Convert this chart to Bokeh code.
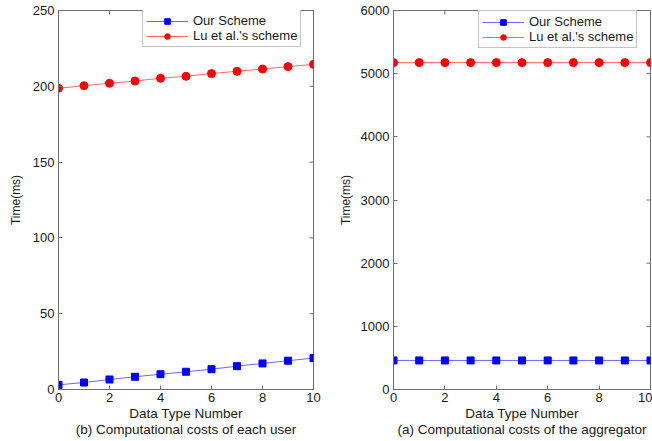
import math
from bokeh.plotting import figure
from bokeh.layouts import row
from bokeh.models import Legend, LegendItem, FixedTicker, Range1d
from bokeh.embed import file_html
from bokeh.resources import INLINE

# ---- data ----
data_type = [0, 1, 2, 3, 4, 5, 6, 7, 8, 9, 10]
user_ours = [3.1, 4.6, 6.6, 8.4, 10.1, 11.7, 13.4, 15.4, 17.2, 19.0, 20.7]
user_lu = [198.7, 200.4, 202.0, 203.5, 205.3, 206.6, 208.4, 209.9, 211.4, 213.0, 214.5]
agg_ours = [460, 460, 460, 460, 460, 460, 460, 460, 460, 460, 460]
agg_lu = [5175, 5175, 5175, 5175, 5175, 5175, 5175, 5175, 5175, 5175, 5175]
x_ticks = [0, 2, 4, 6, 8, 10]
user_y_ticks = [0, 50, 100, 150, 200, 250]
agg_y_ticks = [0, 1000, 2000, 3000, 4000, 5000, 6000]
series_names = ["Our Scheme", "Lu et al.'s scheme"]
x_label = "Data Type Number"
y_label = "Time(ms)"
captions = ["(b) Computational costs of each user", "(a) Computational costs of the aggregator"]

FONT = "Liberation Sans"
FRAME = "#6e6e6e"
TXT = "#1a1a1a"
H = 440
X_MAX = 10


def style_axis(ax, ticks):
    ax.ticker = FixedTicker(ticks=ticks)
    ax.major_tick_in = 4
    ax.major_tick_out = 0
    ax.minor_tick_line_color = None
    ax.major_tick_line_color = FRAME
    ax.axis_line_color = FRAME
    ax.major_label_text_font = FONT
    ax.major_label_text_color = TXT
    ax.major_label_text_font_size = "13px"
    ax.axis_label_text_font = FONT
    ax.axis_label_text_font_style = "normal"
    ax.axis_label_text_color = TXT


def make_panel(width, bl, br, y_max, y_ticks, ours, lu, caption, leg_xy, ylab_standoff):
    p = figure(width=width, height=H, output_backend="svg", toolbar_location=None,
               x_range=Range1d(0, X_MAX), y_range=Range1d(0, y_max),
               min_border_left=bl, min_border_right=br, min_border_top=10,
               min_border_bottom=40)
    p.grid.visible = False
    p.outline_line_color = FRAME
    p.outline_line_width = 1
    p.background_fill_color = "white"
    p.border_fill_color = "white"

    style_axis(p.xaxis[0], x_ticks)
    p.xaxis[0].major_label_standoff = 3
    p.xaxis[0].axis_label = x_label + "\n" + caption
    p.xaxis[0].axis_label_text_font_size = "13.5px"
    p.xaxis[0].axis_label_standoff = 1
    p.xaxis[0].axis_label_text_line_height = 1.1

    style_axis(p.yaxis[0], y_ticks)
    p.yaxis[0].major_label_standoff = 4
    p.yaxis[0].axis_label = y_label
    p.yaxis[0].axis_label_text_font_size = "12px"
    p.yaxis[0].axis_label_standoff = ylab_standoff

    # inward tick marks on the top and right edges of the box (clipped to frame)
    p.scatter(x_ticks, [y_max] * len(x_ticks), marker="dash", size=8,
              angle=math.pi / 2, line_color=FRAME, line_width=1)
    p.scatter([X_MAX] * len(y_ticks), y_ticks, marker="dash", size=8,
              line_color=FRAME, line_width=1)

    l1 = p.line(data_type, ours, line_color="#6a6aff", line_width=1)
    s1 = p.scatter(data_type, ours, marker="square", size=7, fill_color="#0000ff",
                   line_color="#0000ff")
    l2 = p.line(data_type, lu, line_color="#ff6a6a", line_width=1)
    s2 = p.scatter(data_type, lu, marker="circle", size=8, fill_color="#ff0000",
                   line_color="#ff0000")

    legend = Legend(items=[LegendItem(label=series_names[0], renderers=[l1, s1]),
                           LegendItem(label=series_names[1], renderers=[l2, s2])],
                    location=leg_xy)
    legend.label_text_font = FONT
    legend.label_text_font_size = "13px"
    legend.label_text_color = TXT
    legend.glyph_width = 42
    legend.glyph_height = 14
    legend.label_height = 14
    legend.label_standoff = 5
    legend.spacing = 0
    legend.padding = 3
    legend.margin = 0
    legend.border_line_color = "#8a8a8a"
    legend.border_line_width = 1
    legend.background_fill_color = "white"
    legend.background_fill_alpha = 1
    p.add_layout(legend, "center")
    return p


p1 = make_panel(330, 58, 17, 250, user_y_ticks, user_ours, user_lu, captions[0], (84, 342), 7)
p2 = make_panel(322, 63, 2, 6000, agg_y_ticks, agg_ours, agg_lu, captions[1], (85, 341), 5)

layout = row(p1, p2)
open("out.html", "w").write(file_html(layout, INLINE))
